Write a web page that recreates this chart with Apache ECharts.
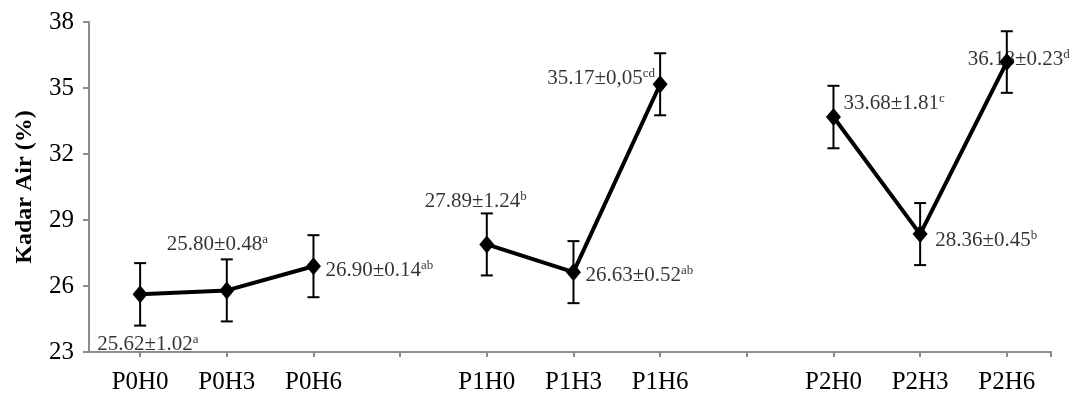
<!DOCTYPE html>
<html>
<head>
<meta charset="utf-8">
<script src="https://cdn.jsdelivr.net/npm/echarts@6/dist/echarts.min.js"></script>
<style>html,body{margin:0;padding:0;background:#fff}#c{width:1075px;height:401px}</style>
</head>
<body>
<div id="c"></div>
<script>
// ---- data ----
var categories = ['P0H0','P0H3','P0H6','','P1H0','P1H3','P1H6','','P2H0','P2H3','P2H6'];
var groupP0 = [25.62, 25.80, 26.90];
var groupP1 = [27.89, 26.63, 35.17];
var groupP2 = [33.68, 28.36, 36.18];
var errP0 = [1.42, 1.41, 1.41];
var errP1 = [1.41, 1.41, 1.41];
var errP2 = [1.42, 1.41, 1.40];
var labelsP0 = [['25.62±1.02','a'], ['25.80±0.48','a'], ['26.90±0.14','ab']];
var labelsP1 = [['27.89±1.24','b'], ['26.63±0.52','ab'], ['35.17±0,05','cd']];
var labelsP2 = [['33.68±1.81','c'], ['28.36±0.45','b'], ['36.18±0.23','d']];
var yTicks = [23, 26, 29, 32, 35, 38];

// ---- layout / style (not data) ----
var X0 = 0.59, XMAX = 11.1;
var labelOffsets = [[-43, 50], [-60, -46], [12, 4],
                    [-62, -43], [12, 3], [-113, -6],
                    [10, -14], [15, 6], [-39, -3]];
var FONT = '"Liberation Serif", "Times New Roman", serif';
var AXIS_COLOR = '#8c8c8c';

var groups = [
  {vals: groupP0, err: errP0, lab: labelsP0, idx: [0,1,2]},
  {vals: groupP1, err: errP1, lab: labelsP1, idx: [4,5,6]},
  {vals: groupP2, err: errP2, lab: labelsP2, idx: [8,9,10]}
];

var series = [];
var errData = [];
var labelData = [];
var li = 0;
groups.forEach(function (g) {
  var pts = g.vals.map(function (v, i) { return [g.idx[i] + X0, v]; });
  series.push({
    type: 'line', data: pts, z: 4,
    symbol: 'diamond', symbolSize: [15, 18],
    lineStyle: {color: '#000', width: 4},
    itemStyle: {color: '#000'},
    label: {show: false}, animation: false
  });
  g.vals.forEach(function (v, i) {
    errData.push([g.idx[i] + X0, v - g.err[i], v + g.err[i]]);
    var off = labelOffsets[li++];
    labelData.push({
      value: [g.idx[i] + X0, v],
      label: {
        show: true, position: 'inside', align: 'left', verticalAlign: 'middle',
        offset: off,
        formatter: '{v|' + g.lab[i][0] + '}{s|' + g.lab[i][1] + '}'
      }
    });
  });
});

series.unshift({
  type: 'custom', z: 2, animation: false,
  data: errData,
  renderItem: function (params, api) {
    var x = api.value(0);
    var lo = api.coord([x, api.value(1)]);
    var hi = api.coord([x, api.value(2)]);
    var w = 6;
    var st = {stroke: '#000', lineWidth: 2};
    return {
      type: 'group',
      children: [
        {type: 'line', shape: {x1: lo[0], y1: lo[1], x2: hi[0], y2: hi[1]}, style: st},
        {type: 'line', shape: {x1: lo[0]-w, y1: lo[1], x2: lo[0]+w, y2: lo[1]}, style: st},
        {type: 'line', shape: {x1: hi[0]-w, y1: hi[1], x2: hi[0]+w, y2: hi[1]}, style: st}
      ]
    };
  }
});

series.push({
  type: 'scatter', z: 3, animation: false,
  symbol: 'circle', symbolSize: 1,
  itemStyle: {color: 'rgba(0,0,0,0)'},
  data: labelData,
  label: {
    color: '#000',
    rich: {
      v: {fontFamily: FONT, fontSize: 21, color: '#000', lineHeight: 22},
      s: {fontFamily: FONT, fontSize: 13, color: '#000', verticalAlign: 'top', lineHeight: 22, padding: [0,0,6,0]}
    }
  },
  emphasis: {disabled: true}
});

var tickPos = categories.map(function (c, i) { return i + X0; }).concat([XMAX]);
var labelPos = [];
categories.forEach(function (c, i) { if (c) labelPos.push(i + X0); });

var chart = echarts.init(document.getElementById('c'), null, {renderer: 'canvas'});
chart.setOption({
  backgroundColor: '#fff',
  animation: false,
  grid: {left: 89, right: 24, top: 22, bottom: 49, containLabel: false},
  xAxis: {
    type: 'value', min: 0, max: XMAX,
    splitLine: {show: false},
    axisLine: {show: true, onZero: false, lineStyle: {color: AXIS_COLOR, width: 2}},
    axisTick: {show: true, length: 5, customValues: tickPos, lineStyle: {color: AXIS_COLOR, width: 2}},
    axisLabel: {
      customValues: labelPos, margin: 18,
      fontFamily: FONT, fontSize: 25, color: '#000',
      formatter: function (v) { return categories[Math.round(v - X0)] || ''; }
    }
  },
  yAxis: {
    type: 'value', min: 23, max: 38, interval: 3,
    name: 'Kadar Air (%)', nameLocation: 'middle', nameGap: 52,
    nameTextStyle: {fontFamily: FONT, fontSize: 24, fontWeight: 'bold', color: '#000'},
    splitLine: {show: false},
    axisLine: {show: true, lineStyle: {color: AXIS_COLOR, width: 2}},
    axisTick: {show: true, length: 6, lineStyle: {color: AXIS_COLOR, width: 2}},
    axisLabel: {
      margin: 15, fontFamily: FONT, fontSize: 25, color: '#000',
      formatter: function (v) { return yTicks.indexOf(v) >= 0 ? String(v) : ''; }
    }
  },
  series: series
});
</script>
</body>
</html>
